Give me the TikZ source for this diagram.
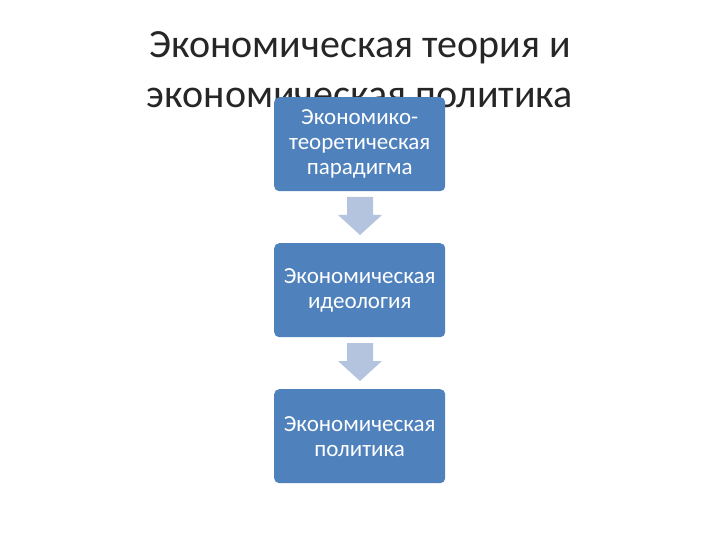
\documentclass[tikz,border=0pt]{standalone}
\usepackage{fontspec}
\setmainfont{Carlito}
\begin{document}
\begin{tikzpicture}[x=1pt,y=-1pt,
  box/.style={draw=none,fill=boxblue,rounded corners=5pt,minimum width=171pt,minimum height=94pt,text=white,align=center,font=\fontsize{23}{25}\selectfont,anchor=north west,inner xsep=2pt},
  barrow/.style={fill=arrowblue,draw=none}]
\definecolor{boxblue}{HTML}{4F81BD}
\definecolor{arrowblue}{HTML}{B4C3DE}
\useasboundingbox (0,0) rectangle (720,540);
\node (title) at (360,70) [align=center,font=\fontsize{40}{50}\selectfont,text=black!85] {Экономическая теория и\\экономическая политика};
\node[box] (b1) at (274,97) {Экономико-\\теоретическая\\парадигма};
\node[box] (b2) at (274,243) {Экономическая\\идеология};
\node[box] (b3) at (274,389) {Экономическая\\политика};
\foreach \t in {197,343}{
  \fill[arrowblue] (347,\t) -- (373,\t) -- (373,\t+18) -- (382,\t+18) -- (360,\t+38) -- (338,\t+18) -- (347,\t+18) -- cycle;
}
\end{tikzpicture}
\end{document}
